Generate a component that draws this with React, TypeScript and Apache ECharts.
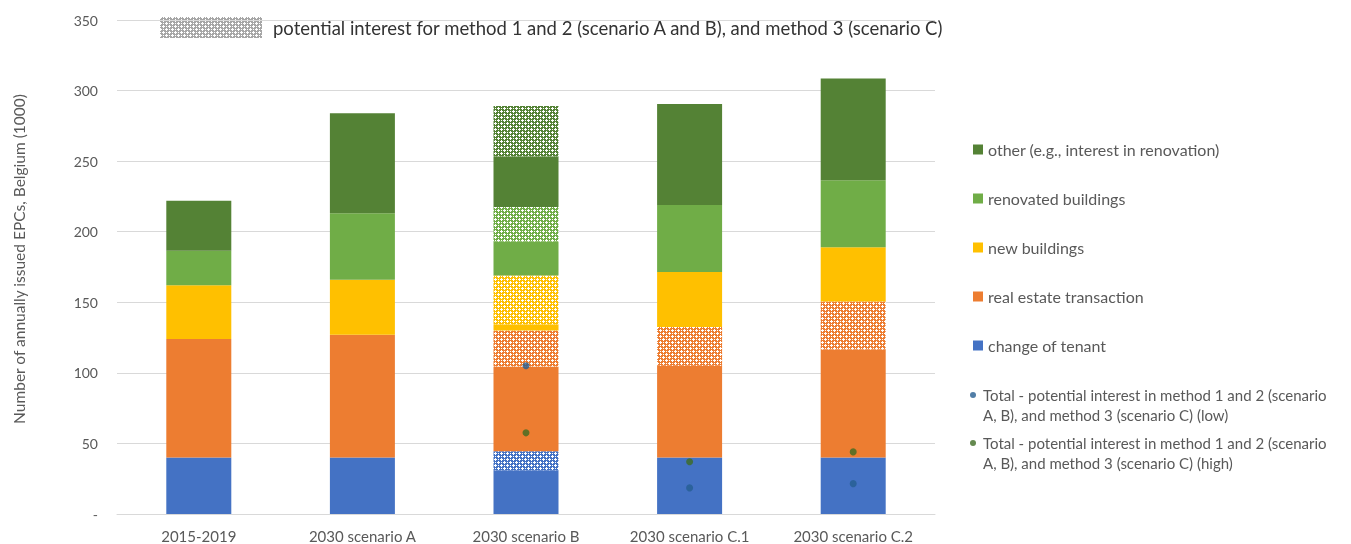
import React, { useEffect, useRef } from "react";
import * as echarts from "echarts";

const categories = [
  "2015-2019",
  "2030 scenario A",
  "2030 scenario B",
  "2030 scenario C.1",
  "2030 scenario C.2",
];

// Annually issued EPCs (thousands), stacked bottom to top
const tenant = [40, 40, 31, 40, 40];
const tenantPotential = [0, 0, 13.5, 0, 0];
const realEstate = [84, 87, 60, 65, 76.5];
const realEstatePotential = [0, 0, 25.5, 27.5, 34];
const newBuildings = [38, 39, 4.5, 39, 38.5];
const newPotential = [0, 0, 34.5, 0, 0];
const renovated = [24.5, 47, 24, 47.5, 47.5];
const renovatedPotential = [0, 0, 24.5, 0, 0];
const other = [35.5, 71, 36, 71.5, 72];
const otherPotential = [0, 0, 35.5, 0, 0];

// Totals of the potential interest (markers)
const totalLow = [null, null, 105, 18.5, 21.5];
const totalHigh = [null, null, 57.5, 37, 44];

const yTicks = [0, 50, 100, 150, 200, 250, 300, 350];

const NAME_TENANT = "change of tenant";
const NAME_RE = "real estate transaction";
const NAME_NEW = "new buildings";
const NAME_RENOV = "renovated buildings";
const NAME_OTHER = "other (e.g., interest in renovation)";
const NAME_LOW =
  "Total - potential interest in method 1 and 2 (scenario A, B), and method 3 (scenario C) (low)";
const NAME_HIGH =
  "Total - potential interest in method 1 and 2 (scenario A, B), and method 3 (scenario C) (high)";
const POTENTIAL_TEXT =
  "potential interest for method 1 and 2 (scenario A and B), and method 3 (scenario C)";

const COLORS = {
  tenant: "#4472C4",
  re: "#ED7D31",
  newB: "#FFC000",
  renov: "#70AD47",
  other: "#548235",
  low: "#255E91",
  high: "#3D6B23",
  grey: "#A6A6A6",
};

const FONT = "Lato, 'Open Sans', sans-serif";

// Legend dot sitting next to the first of two text lines
const TOP_DOT_ICON =
  "path://M0,10 A3,3 0 1,1 6,10 A3,3 0 1,1 0,10 Z M3,0 L3,0 M3,40 L3,40";

// Dotted-diamond fill: coloured tile with small white crosses
function makePattern(color: string) {
  const size = 6;
  const c = document.createElement("canvas");
  c.width = size;
  c.height = size;
  const ctx = c.getContext("2d")!;
  ctx.fillStyle = color;
  ctx.fillRect(0, 0, size, size);
  ctx.fillStyle = "#ffffff";
  const white = [
    [0, 0], [-1, 0], [1, 0], [0, -1], [0, 1],
    [3, 3], [2, 3], [4, 3], [3, 2], [3, 4],
    [0, 3], [3, 0],
  ];
  for (const [px, py] of white) {
    ctx.fillRect((px + size) % size, (py + size) % size, 1, 1);
  }
  return {
    image: c,
    repeat: "repeat",
    imageWidth: size,
    imageHeight: size,
  } as any;
}

export default function App() {
  const ref = useRef<HTMLDivElement>(null);

  useEffect(() => {
    if (!ref.current) return;
    const chart = echarts.init(ref.current, undefined, { renderer: "svg" });

    const bar = (name: string, data: number[], color: any) => ({
      name,
      type: "bar",
      stack: "total",
      barWidth: 65,
      data: data.map((v) => (v === 0 ? null : v)),
      itemStyle: { color },
      emphasis: { disabled: true },
    });

    chart.setOption({
      animation: false,
      textStyle: { fontFamily: FONT },
      grid: { left: 117, right: 416, top: 20, bottom: 30, containLabel: false },
      xAxis: {
        type: "category",
        data: categories,
        axisLine: { lineStyle: { color: "#d9d9d9" } },
        axisTick: { show: false },
        axisLabel: { color: "#595959", fontSize: 15, margin: 14, fontFamily: FONT },
      },
      yAxis: {
        type: "value",
        min: yTicks[0],
        max: yTicks[yTicks.length - 1],
        interval: 50,
        name: "Number of annually issued EPCs, Belgium (1000)",
        nameLocation: "middle",
        nameRotate: 90,
        nameGap: 90,
        nameTextStyle: {
          color: "#595959",
          fontSize: 15.5,
          fontFamily: FONT,
          padding: [0, 0, 0, 16],
        },
        axisLine: { show: false },
        axisTick: { show: false },
        axisLabel: {
          color: "#595959",
          fontSize: 14,
          margin: 19,
          fontFamily: FONT,
          formatter: (v: number) => (v === 0 ? "-" : String(v)),
        },
        splitLine: { lineStyle: { color: "#d9d9d9" } },
      },
      legend: [
        {
          orient: "vertical",
          left: 973,
          top: 141,
          padding: 0,
          itemWidth: 10,
          itemHeight: 10,
          itemGap: 32,
          icon: "rect",
          data: [NAME_OTHER, NAME_RENOV, NAME_NEW, NAME_RE, NAME_TENANT],
          textStyle: { color: "#595959", fontSize: 16, lineHeight: 17, fontFamily: FONT },
          selectedMode: false,
        },
        {
          orient: "vertical",
          left: 970,
          top: 385,
          padding: 0,
          itemWidth: 10,
          itemHeight: 40,
          itemGap: 8,
          icon: TOP_DOT_ICON,
          data: [NAME_LOW, NAME_HIGH],
          formatter: (n: string) => n.replace("(scenario A, B)", "(scenario\nA, B)"),
          textStyle: { color: "#595959", fontSize: 15, lineHeight: 20, fontFamily: FONT },
          selectedMode: false,
        },
      ],
      graphic: [
        {
          type: "rect",
          left: 160,
          top: 17,
          shape: { width: 102, height: 21 },
          style: { fill: makePattern(COLORS.grey) },
        },
        {
          type: "text",
          x: 273,
          y: 28,
          style: {
            text: POTENTIAL_TEXT,
            fill: "#333333",
            fontSize: 18.5,
            fontFamily: FONT,
            verticalAlign: "middle",
          },
        },
      ],
      series: [
        bar(NAME_TENANT, tenant, COLORS.tenant),
        bar("change of tenant (potential)", tenantPotential, makePattern(COLORS.tenant)),
        bar(NAME_RE, realEstate, COLORS.re),
        bar("real estate transaction (potential)", realEstatePotential, makePattern(COLORS.re)),
        bar(NAME_NEW, newBuildings, COLORS.newB),
        bar("new buildings (potential)", newPotential, makePattern(COLORS.newB)),
        bar(NAME_RENOV, renovated, COLORS.renov),
        bar("renovated buildings (potential)", renovatedPotential, makePattern(COLORS.renov)),
        bar(NAME_OTHER, other, COLORS.other),
        bar("other (potential)", otherPotential, makePattern(COLORS.other)),
        {
          name: NAME_LOW,
          type: "scatter",
          data: totalLow,
          symbolSize: 7,
          itemStyle: { color: COLORS.low },
          z: 5,
        },
        {
          name: NAME_HIGH,
          type: "scatter",
          data: totalHigh,
          symbolSize: 7,
          itemStyle: { color: COLORS.high },
          z: 5,
        },
      ],
    });

    return () => chart.dispose();
  }, []);

  return (
    <div
      ref={ref}
      style={{ position: "fixed", left: 0, top: 0, width: 1351, height: 544 }}
    />
  );
}
